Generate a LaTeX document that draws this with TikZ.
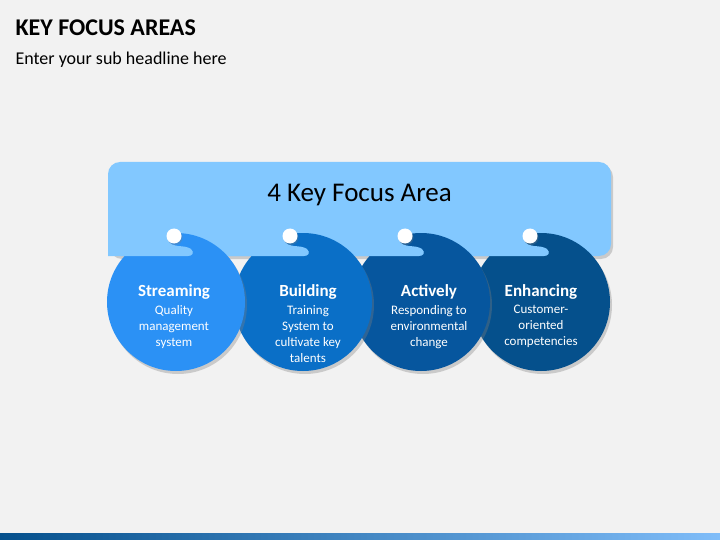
\documentclass[tikz,border=0pt]{standalone}
\usepackage{fontspec}
\setmainfont{Carlito}
\usetikzlibrary{positioning,shadows}
\definecolor{bgray}{HTML}{F2F2F2}
\definecolor{banner}{HTML}{82C8FF}
\definecolor{cA}{HTML}{2B91F5}
\definecolor{cB}{HTML}{0A6FC7}
\definecolor{cC}{HTML}{06569E}
\definecolor{cD}{HTML}{05508C}
\tikzset{
 ring/.style={circle,minimum size=138pt,inner sep=0pt,drop shadow={shadow xshift=2pt,shadow yshift=-3pt,opacity=.35}},
 head/.style={font=\bfseries\fontsize{17}{19}\selectfont,text=white},
 body/.style={font=\fontsize{13}{16}\selectfont,text=white,align=center}
}
\begin{document}
\begin{tikzpicture}[x=1pt,y=-1pt]
\useasboundingbox[fill=bgray] (0,0) rectangle (720,540);
\node[anchor=west,font=\bfseries\fontsize{24}{26}\selectfont] (title) at (12,28) {KEY FOCUS AREAS};
\node[anchor=west,font=\fontsize{18}{20}\selectfont] (sub) at (12,60) {Enter your sub headline here};
% banner
\node[fill=banner,rounded corners=12pt,minimum width=503pt,minimum height=94pt,inner sep=0pt,
  drop shadow={shadow xshift=2pt,shadow yshift=-3pt,opacity=.35}] (band) at (359.5,209) {};
\node[font=\fontsize{27}{29}\selectfont] (bandtxt) at (359.5,195) {4 Key Focus Area};
% circles with hooks, right to left
\foreach \x/\hx/\c/\n in {541/530/cD/4,421/405/cC/3,303/290/cB/2,176/174/cA/1}{
  \node[ring,fill=\c] (c\n) at (\x,302) {};
  \pgfmathsetmacro\lx{max(\hx-75,108)}
  \fill[banner] (\lx,222) -- (\hx-6,222) -- (\hx-6,240)
     .. controls (\hx-2,249) and (\hx+10,244) .. (\hx+17,249)
     .. controls (\hx+21,253) and (\hx+18,256) .. (\hx+14,256) -- (\lx,256) -- cycle;
  \fill[white,drop shadow={shadow xshift=1pt,shadow yshift=-1.5pt,opacity=.3}] (\hx,236) circle (7.5);
}
\foreach \n/\tx/\h/\t in {1/174/Streaming/{Quality\\management\\system},2/308/Building/{Training\\System to\\cultivate key\\talents},3/429/Actively/{Responding to\\environmental\\change},4/541/Enhancing/{Customer-\\oriented\\competencies}}{
  \node[head] (h\n) at (\tx,292) {\h};
  \node[body,below=-1pt of h\n] (b\n) {\t};
}
% bottom bar
\shade[left color=cD,right color=cA!60] (0,533) rectangle (720,540);
\end{tikzpicture}
\end{document}
